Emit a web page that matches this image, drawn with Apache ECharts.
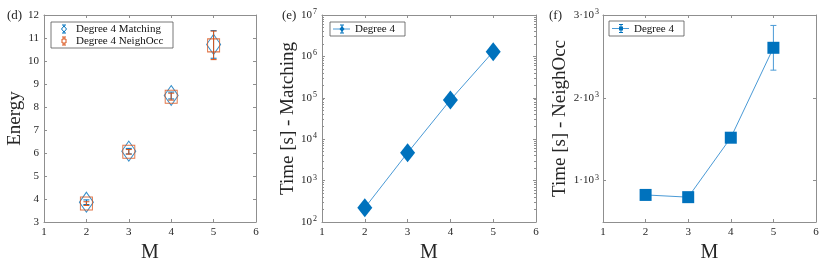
<!DOCTYPE html>
<html>
<head>
<meta charset="utf-8">
<script src="https://cdn.jsdelivr.net/npm/echarts@6/dist/echarts.min.js"></script>
<style>html,body{margin:0;padding:0;background:#fff}#c{width:831px;height:268px}</style>
</head>
<body>
<div id="c"></div>
<script>
const M = [2, 3, 4, 5];
const energyMatching = [3.86, 6.08, 8.5, 10.72];
const energyMatchingErr = [0.1, 0.12, 0.15, 0.6];
const energyNeighOcc = [3.8, 6.05, 8.45, 10.68];
const energyNeighOccErr = [0.08, 0.1, 0.15, 0.62];
const timeMatching = [220, 4700, 89000, 1300000];
const timeMatchingErr = [5, 100, 2000, 30000];
const timeNeighOcc = [827, 800, 1518, 2604];
const timeNeighOccErr = [12, 12, 45, 270];
const xTicks = [1, 2, 3, 4, 5, 6];
const fTicks = [1000, 2000, 3000];
const logDecades = [2, 3, 4, 5, 6];
const logMinorMultipliers = [2, 3, 4, 5, 6, 7, 8, 9];

const SERIF = '"Liberation Serif","Times New Roman",serif';
const BLUE = '#0072BD', ORANGE = '#D95319', LINEBLUE = '#4a9ad6';
const AX = '#8f8f8f', TXT = '#262626';

function xAx(grid, top) {
  return {
    type: 'value', gridIndex: grid, min: 1, max: 6, interval: 1,
    position: top ? 'top' : 'bottom',
    name: top ? '' : 'M', nameLocation: 'middle', nameGap: 21,
    nameTextStyle: {fontFamily: SERIF, fontSize: 20, color: TXT},
    axisLine: {show: true, onZero: false, lineStyle: {color: AX, width: 1}},
    axisTick: {show: true, inside: true, length: 3, lineStyle: {color: AX}},
    axisLabel: {show: !top, fontFamily: SERIF, fontSize: 11, color: TXT, margin: 5},
    splitLine: {show: false}
  };
}
function sup(v, pre) { return (pre || '') + '10{s|' + v + '}'; }

const errRender = function (params, api) {
  const x = api.value(0), lo = api.value(1), hi = api.value(2);
  const a = api.coord([x, hi]), b = api.coord([x, lo]);
  const w = 3, c = api.visual('color');
  const st = {stroke: c, lineWidth: 1};
  return {type: 'group', children: [
    {type: 'line', shape: {x1: a[0], y1: a[1], x2: b[0], y2: b[1]}, style: st},
    {type: 'line', shape: {x1: a[0] - w, y1: a[1], x2: a[0] + w, y2: a[1]}, style: st},
    {type: 'line', shape: {x1: b[0] - w, y1: b[1], x2: b[0] + w, y2: b[1]}, style: st}
  ]};
};
function errData(vals, errs) { return M.map((m, i) => [m, vals[i] - errs[i], vals[i] + errs[i]]); }
function pts(vals) { return M.map((m, i) => [m, vals[i]]); }

const minorLogTicks = [];
logDecades.forEach(d => logMinorMultipliers.forEach(k => minorLogTicks.push(d + Math.log10(k))));

const labelRich = {s: {fontSize: 8, verticalAlign: 'top', padding: [0, 0, 6, 1], fontFamily: SERIF, color: TXT}};

function legendBox(x, y, w, h) {
  return {type: 'rect', shape: {x: x, y: y, width: w, height: h}, style: {fill: '#fff', stroke: '#555', lineWidth: 0.8}, z: 100};
}
function legErr(x, yc, color, marker) {
  const st = {stroke: color, lineWidth: 1};
  const els = [
    {type: 'line', shape: {x1: x, y1: yc - 4, x2: x, y2: yc + 4}, style: st, z: 101},
    {type: 'line', shape: {x1: x - 2, y1: yc - 4, x2: x + 2, y2: yc - 4}, style: st, z: 101},
    {type: 'line', shape: {x1: x - 2, y1: yc + 4, x2: x + 2, y2: yc + 4}, style: st, z: 101}
  ];
  if (marker === 'diamond') els.push({type: 'polygon', shape: {points: [[x, yc - 3], [x + 2.5, yc], [x, yc + 3], [x - 2.5, yc]]}, style: {fill: '#fff', stroke: color, lineWidth: 1}, z: 102});
  if (marker === 'rect') els.push({type: 'rect', shape: {x: x - 2, y: yc - 2, width: 4, height: 4}, style: {fill: '#fff', stroke: color, lineWidth: 1}, z: 102});
  if (marker === 'fdiamond') els.push({type: 'polygon', shape: {points: [[x, yc - 3], [x + 2.5, yc], [x, yc + 3], [x - 2.5, yc]]}, style: {fill: color}, z: 102});
  if (marker === 'frect') els.push({type: 'rect', shape: {x: x - 2, y: yc - 2, width: 4, height: 4}, style: {fill: color}, z: 102});
  return els;
}
function legText(x, y, t) {
  return {type: 'text', x: x, y: y, style: {text: t, font: '11px ' + SERIF, fill: '#111', textVerticalAlign: 'middle'}, z: 103};
}
function minorAxis(pos) {
  return {type: 'value', gridIndex: 1, min: 2, max: 7, interval: 1, position: pos,
    axisLine: {show: false}, splitLine: {show: false}, axisLabel: {show: false},
    axisTick: {show: true, inside: true, length: 2, customValues: minorLogTicks, lineStyle: {color: AX}}};
}

const chart = echarts.init(document.getElementById('c'), null, {renderer: 'canvas'});
const option = {
  animation: false,
  backgroundColor: '#fff',
  grid: [
    {left: 44, right: 575, top: 15, bottom: 41},
    {left: 322, right: 295, top: 15, bottom: 41},
    {left: 603, right: 15, top: 15, bottom: 41}
  ],
  xAxis: [xAx(0, false), xAx(0, true), xAx(1, false), xAx(1, true), xAx(2, false), xAx(2, true)],
  yAxis: [
    {type: 'value', gridIndex: 0, min: 3, max: 12, interval: 1, position: 'left',
     name: 'Energy', nameLocation: 'middle', nameGap: 16,
     nameTextStyle: {fontFamily: SERIF, fontSize: 19, color: TXT},
     axisLine: {show: true, onZero: false, lineStyle: {color: AX}},
     axisTick: {inside: true, length: 3, lineStyle: {color: AX}},
     axisLabel: {fontFamily: SERIF, fontSize: 11, color: TXT, margin: 5}, splitLine: {show: false}},
    {type: 'value', gridIndex: 0, min: 3, max: 12, interval: 1, position: 'right',
     axisLine: {show: true, onZero: false, lineStyle: {color: AX}},
     axisTick: {inside: true, length: 3, lineStyle: {color: AX}},
     axisLabel: {show: false}, splitLine: {show: false}},
    {type: 'log', logBase: 10, gridIndex: 1, min: 100, max: 1e7, position: 'left',
     name: 'Time [s] - Matching', nameLocation: 'middle', nameGap: 13,
     nameTextStyle: {fontFamily: SERIF, fontSize: 19, color: TXT},
     axisLine: {show: true, onZero: false, lineStyle: {color: AX}},
     axisTick: {inside: true, length: 3, lineStyle: {color: AX}},
     axisLabel: {fontFamily: SERIF, fontSize: 11, color: TXT, margin: 5,
       formatter: v => sup(Math.round(Math.log10(v))), rich: labelRich},
     splitLine: {show: false}},
    {type: 'log', logBase: 10, gridIndex: 1, min: 100, max: 1e7, position: 'right',
     axisLine: {show: true, onZero: false, lineStyle: {color: AX}},
     axisTick: {inside: true, length: 3, lineStyle: {color: AX}},
     axisLabel: {show: false}, splitLine: {show: false}},
    {type: 'value', gridIndex: 2, min: 500, max: 3000, interval: 500, position: 'left',
     name: 'Time [s] - NeighOcc', nameLocation: 'middle', nameGap: 30,
     nameTextStyle: {fontFamily: SERIF, fontSize: 19, color: TXT},
     axisLine: {show: true, onZero: false, lineStyle: {color: AX}},
     axisTick: {inside: true, length: 3, customValues: fTicks, lineStyle: {color: AX}},
     axisLabel: {fontFamily: SERIF, fontSize: 11, color: TXT, margin: 4, customValues: fTicks,
       formatter: v => sup(3, Math.round(v / 1000) + '\u00b7'), rich: labelRich},
     splitLine: {show: false}},
    {type: 'value', gridIndex: 2, min: 500, max: 3000, interval: 500, position: 'right',
     axisLine: {show: true, onZero: false, lineStyle: {color: AX}},
     axisTick: {inside: true, length: 3, customValues: fTicks, lineStyle: {color: AX}},
     axisLabel: {show: false}, splitLine: {show: false}},
    minorAxis('left'),
    minorAxis('right')
  ],
  series: [
    {type: 'custom', name: 'Degree 4 Matching err', xAxisIndex: 0, yAxisIndex: 0, renderItem: errRender,
     itemStyle: {color: BLUE}, data: errData(energyMatching, energyMatchingErr), z: 3},
    {type: 'scatter', name: 'Degree 4 Matching', xAxisIndex: 0, yAxisIndex: 0, symbol: 'diamond', symbolSize: [14, 20],
     itemStyle: {color: 'rgba(0,0,0,0)', borderColor: BLUE, borderWidth: 1}, data: pts(energyMatching), z: 3},
    {type: 'custom', name: 'Degree 4 NeighOcc err', xAxisIndex: 0, yAxisIndex: 0, renderItem: errRender,
     itemStyle: {color: ORANGE}, data: errData(energyNeighOcc, energyNeighOccErr), z: 4},
    {type: 'scatter', name: 'Degree 4 NeighOcc', xAxisIndex: 0, yAxisIndex: 0, symbol: 'rect', symbolSize: [12, 13],
     itemStyle: {color: 'rgba(0,0,0,0)', borderColor: ORANGE, borderWidth: 1}, data: pts(energyNeighOcc), z: 4},

    {type: 'line', name: 'Degree 4', xAxisIndex: 2, yAxisIndex: 2, symbol: 'diamond', symbolSize: [15, 19],
     lineStyle: {color: LINEBLUE, width: 1}, itemStyle: {color: BLUE}, data: pts(timeMatching), z: 3},
    {type: 'custom', name: 'e err', xAxisIndex: 2, yAxisIndex: 2, renderItem: errRender,
     itemStyle: {color: LINEBLUE}, data: errData(timeMatching, timeMatchingErr), z: 2},

    {type: 'custom', name: 'f err', xAxisIndex: 4, yAxisIndex: 4, renderItem: errRender,
     itemStyle: {color: LINEBLUE}, data: errData(timeNeighOcc, timeNeighOccErr), z: 2},
    {type: 'line', name: 'Degree 4 f', xAxisIndex: 4, yAxisIndex: 4, symbol: 'rect', symbolSize: 12,
     lineStyle: {color: LINEBLUE, width: 1}, itemStyle: {color: BLUE}, data: pts(timeNeighOcc), z: 3}
  ],
  graphic: [
    {type: 'text', x: 7, y: 16, style: {text: '(d)', font: '13px ' + SERIF, fill: TXT, textVerticalAlign: 'middle'}},
    {type: 'text', x: 282, y: 16, style: {text: '(e)', font: '13px ' + SERIF, fill: TXT, textVerticalAlign: 'middle'}},
    {type: 'text', x: 549, y: 16, style: {text: '(f)', font: '13px ' + SERIF, fill: TXT, textVerticalAlign: 'middle'}},
    legendBox(51, 22, 122, 26),
    ...legErr(64, 29, BLUE, 'diamond'),
    legText(76, 29, 'Degree 4 Matching'),
    ...legErr(64, 41, ORANGE, 'rect'),
    legText(76, 41, 'Degree 4 NeighOcc'),
    legendBox(330, 22, 75, 14),
    {type: 'line', shape: {x1: 333, y1: 29, x2: 350, y2: 29}, style: {stroke: LINEBLUE, lineWidth: 1}, z: 101},
    ...legErr(342, 29, BLUE, 'fdiamond'),
    legText(355, 29.5, 'Degree 4'),
    legendBox(609, 21, 75, 15),
    {type: 'line', shape: {x1: 612, y1: 28.5, x2: 629, y2: 28.5}, style: {stroke: LINEBLUE, lineWidth: 1}, z: 101},
    ...legErr(621, 28.5, BLUE, 'frect'),
    legText(634, 29, 'Degree 4')
  ]
};
chart.setOption(option);
</script>
</body>
</html>
